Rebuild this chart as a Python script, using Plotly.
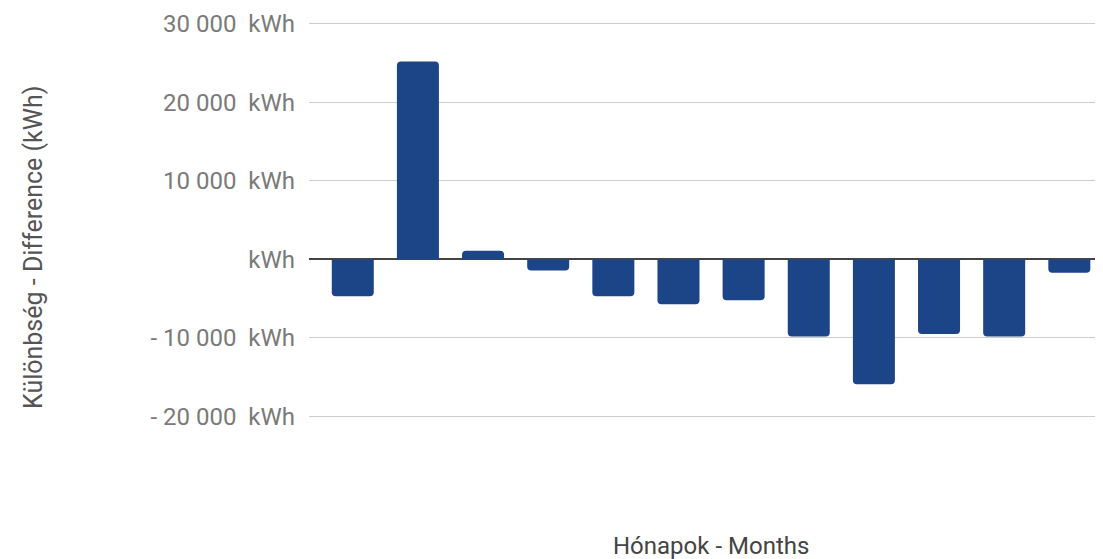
import plotly.graph_objects as go

months = ["Január", "Február", "Március", "Április", "Május", "Június",
          "Július", "Augusztus", "Szeptember", "Október", "November", "December"]
difference_kwh = [-4700, 25200, 1100, -1400, -4700, -5700, -5200, -9800, -15900, -9500, -9800, -1700]

tick_vals = [-20000, -10000, 0, 10000, 20000, 30000]
NB = "\u00a0"
tick_text = [f"-{NB}20{NB}000{NB}{NB}kWh", f"-{NB}10{NB}000{NB}{NB}kWh", "kWh",
             f"10{NB}000{NB}{NB}kWh", f"20{NB}000{NB}{NB}kWh", f"30{NB}000{NB}{NB}kWh"]

fig = go.Figure()
fig.add_trace(go.Bar(
    x=months, y=difference_kwh,
    marker=dict(color="#1c4587", cornerradius=4, line=dict(width=0)),
    hoverinfo="x+y",
))

fig.update_layout(
    width=1095, height=551,
    margin=dict(l=301, r=0, t=12, b=64),
    paper_bgcolor="white", plot_bgcolor="white",
    font=dict(family="Roboto", size=24, color="#757575"),
    bargap=0.355,
    showlegend=False,
    xaxis=dict(range=[-0.672, 11.517], showticklabels=False, showgrid=False,
               zeroline=False, showline=False, ticks=""),
    yaxis=dict(range=[-30000, 30500], tickvals=tick_vals, ticktext=tick_text,
               showgrid=True, gridcolor="#cccccc", gridwidth=1,
               zeroline=True, zerolinecolor="#444444", zerolinewidth=2,
               showline=False, ticks="", ticklabelstandoff=13,
               tickfont=dict(family="Roboto", size=24, color="#7a7a7a")),
    annotations=[
        dict(text="Különbség - Difference (kWh)", textangle=-90,
             xref="paper", yref="paper", x=0, y=0.52, xanchor="center", yanchor="middle",
             xshift=-276, showarrow=False,
             font=dict(family="Roboto", size=25, color="#555555")),
        dict(text="Hónapok - Months",
             xref="paper", yref="paper", x=0.506, y=0, xanchor="center", yanchor="middle",
             yshift=-51, showarrow=False,
             font=dict(family="Roboto", size=24, color="#444444")),
    ],
)

fig.write_html("out.html")
